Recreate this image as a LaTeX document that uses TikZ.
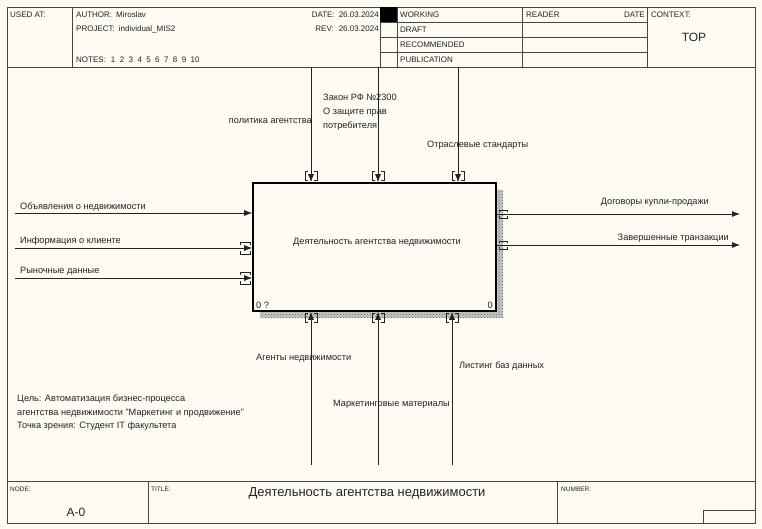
\documentclass[tikz,border=0pt]{standalone}
\usepackage{fontspec}
\setmainfont{Liberation Sans}
\usetikzlibrary{arrows.meta,patterns}
\definecolor{paper}{RGB}{253,251,242}
\definecolor{ink}{RGB}{35,35,35}
\definecolor{rule}{RGB}{70,70,70}

\tikzset{
  frameline/.style={draw=rule, line width=0.9pt},
  hdr/.style={inner sep=0pt, font=\fontsize{8}{9}\selectfont, text=ink},
  tiny/.style={inner sep=0pt, font=\fontsize{6.5}{8}\selectfont, text=ink},
  lbl/.style={inner sep=0pt, font=\fontsize{9.2}{14}\selectfont, text=ink},
  arr/.style={draw=ink, line width=0.8pt, -{Latex[length=8pt,width=6pt]}},
  tun/.style={draw=ink, line width=0.7pt},
  shadefill/.style={fill=black!22},
  shadedots/.style={pattern=crosshatch dots, pattern color=black!60},
  actbox/.style={draw=black, line width=1.6pt, fill=paper, inner sep=0pt,
                 minimum width=243pt, minimum height=128pt},
  tuntop/.pic={\draw[tun] (-3,-11) -- (-6,-11) -- (-6,-2) -- (-3,-2)
                          (3,-11) -- (6,-11) -- (6,-2) -- (3,-2);},
  tunbot/.pic={\draw[tun] (-3,2) -- (-6,2) -- (-6,11) -- (-3,11)
                          (3,2) -- (6,2) -- (6,11) -- (3,11);},
  tunleft/.pic={\draw[tun] (-12,-3) -- (-12,-6) -- (-2,-6) -- (-2,-3)
                           (-12,3) -- (-12,6) -- (-2,6) -- (-2,3);},
  tunright/.pic={\draw[tun] (3,-2) -- (3,-4) -- (11,-4) -- (11,-2)
                            (3,2) -- (3,4) -- (11,4) -- (11,2);},
}
\newcommand{\ngap}{\hspace{4.4pt}}

\begin{document}
\begin{tikzpicture}[x=1pt,y=-1pt]
\fill[paper] (0,0) rectangle (762,529);
\useasboundingbox (0,0) rectangle (762,529);

% ---- outer frame, header and footer ----
\draw[frameline] (7,7) rectangle (755,523);
\draw[frameline] (7,67) -- (755,67);
\draw[frameline] (7,481) -- (755,481);
\foreach \x in {72,380,397,522,647} \draw[frameline] (\x,7) -- (\x,67);
\foreach \y in {22,37,52} \draw[frameline] (380,\y) -- (647,\y);
\fill[black] (380,7) rectangle (397,22);
\draw[frameline] (148,481) -- (148,523);
\draw[frameline] (557,481) -- (557,523);
\draw[frameline] (703,510) rectangle (755,523);

\node[hdr, anchor=west] (usedat) at (10,15) {USED AT:};
\node[hdr, anchor=west] (author) at (76,15) {AUTHOR:\hspace{4pt}Miroslav};
\node[hdr, anchor=west] (project) at (76,29) {PROJECT:\hspace{4pt}individual\_MIS2};
\node[hdr, anchor=west] (notes) at (76,60) {NOTES:\hspace{5pt}1\ngap 2\ngap 3\ngap 4\ngap 5\ngap 6\ngap 7\ngap 8\ngap 9\ngap 10};
\node[hdr, anchor=east] (date) at (379,15) {DATE:\hspace{4pt}26.03.2024};
\node[hdr, anchor=east] (rev) at (379,29) {REV:\hspace{5pt}26.03.2024};
\node[hdr, anchor=west] (working) at (400,15) {WORKING};
\node[hdr, anchor=west] (draft) at (400,30) {DRAFT};
\node[hdr, anchor=west] (recommended) at (400,45) {RECOMMENDED};
\node[hdr, anchor=west] (publication) at (400,60) {PUBLICATION};
\node[hdr, anchor=west] (reader) at (526,15) {READER};
\node[hdr, anchor=east] (rdate) at (645,15) {DATE};
\node[hdr, anchor=west] (context) at (651,15) {CONTEXT:};
\node[inner sep=0pt, font=\fontsize{12}{14}\selectfont, text=ink] (top) at (694,37) {TOP};

\node[tiny, anchor=west] (nodelbl) at (10,489) {NODE:};
\node[inner sep=0pt, font=\fontsize{12}{14}\selectfont, text=ink] (nodeno) at (76,512) {A-0};
\node[tiny, anchor=west] (titlelbl) at (151,489) {TITLE:};
\node[inner sep=0pt, font=\fontsize{13}{15}\selectfont, text=ink] (title) at (367,493) {Деятельность агентства недвижимости};
\node[tiny, anchor=west] (numberlbl) at (561,489) {NUMBER:};

% ---- activity box with its shadow ----
\path[shadefill] (496,190) rectangle (503,318) (260,311) rectangle (503,318);
\path[shadedots] (496,190) rectangle (503,318) (260,311) rectangle (503,318);
\node[actbox] (act) at (374.5,247) {};
\node[lbl] (actname) at (377,242) {Деятельность агентства недвижимости};
\node[lbl, anchor=west] (actnum) at (256,305) {0 ?};
\node[lbl, anchor=east] (actcost) at (493,305) {0};

% ---- controls ----
\coordinate (c1) at (311,67);
\coordinate (c2) at (378,67);
\coordinate (c3) at (458,67);
\draw[arr] (c1) -- (c1 |- act.north);
\draw[arr] (c2) -- (c2 |- act.north);
\draw[arr] (c3) -- (c3 |- act.north);
\pic at (c1 |- act.north) {tuntop};
\pic at (c2 |- act.north) {tuntop};
\pic at (c3 |- act.north) {tuntop};
\node[lbl, anchor=east] (c1lbl) at (312,121) {политика агентства};
\node[lbl, anchor=north west, align=left] (c2lbl) at (323,93.5) {Закон РФ №2300\\О защите прав\\потребителя};
\node[lbl, anchor=west] (c3lbl) at (427,145) {Отраслевые стандарты};

% ---- inputs ----
\coordinate (i1) at (15,213);
\coordinate (i2) at (15,248);
\coordinate (i3) at (15,278);
\draw[arr] (i1) -- (i1 -| act.west);
\draw[arr] (i2) -- (i2 -| act.west);
\draw[arr] (i3) -- (i3 -| act.west);
\pic at (i2 -| act.west) {tunleft};
\pic at (i3 -| act.west) {tunleft};
\node[lbl, anchor=west] (i1lbl) at (20,207) {Объявления о недвижимости};
\node[lbl, anchor=west] (i2lbl) at (20,241) {Информация о клиенте};
\node[lbl, anchor=west] (i3lbl) at (20,271) {Рыночные данные};

% ---- outputs ----
\coordinate (o1) at (740,214);
\coordinate (o2) at (740,245);
\draw[arr] (o1 -| act.east) -- (o1);
\draw[arr] (o2 -| act.east) -- (o2);
\pic at (o1 -| act.east) {tunright};
\pic at (o2 -| act.east) {tunright};
\node[lbl, anchor=east] (o1lbl) at (709,202) {Договоры купли-продажи};
\node[lbl, anchor=east] (o2lbl) at (729,238) {Завершенные транзакции};

% ---- mechanisms ----
\coordinate (m1) at (311,465);
\coordinate (m2) at (378,465);
\coordinate (m3) at (452,465);
\draw[arr] (m1) -- (m1 |- act.south);
\draw[arr] (m2) -- (m2 |- act.south);
\draw[arr] (m3) -- (m3 |- act.south);
\pic at (m1 |- act.south) {tunbot};
\pic at (m2 |- act.south) {tunbot};
\pic at (m3 |- act.south) {tunbot};
\node[lbl, anchor=west] (m1lbl) at (256,358) {Агенты недвижимости};
\node[lbl, anchor=west] (m2lbl) at (333,404) {Маркетинговые материалы};
\node[lbl, anchor=west] (m3lbl) at (459,366) {Листинг баз данных};

% ---- purpose and viewpoint ----
\node[lbl, anchor=north west, align=left, font=\fontsize{9.2}{13.5}\selectfont] (purpose) at (17,395)
  {Цель: Автоматизация бизнес-процесса\\агентства недвижимости "Маркетинг и продвижение"\\Точка зрения: Студент IT факультета};
\end{tikzpicture}
\end{document}
